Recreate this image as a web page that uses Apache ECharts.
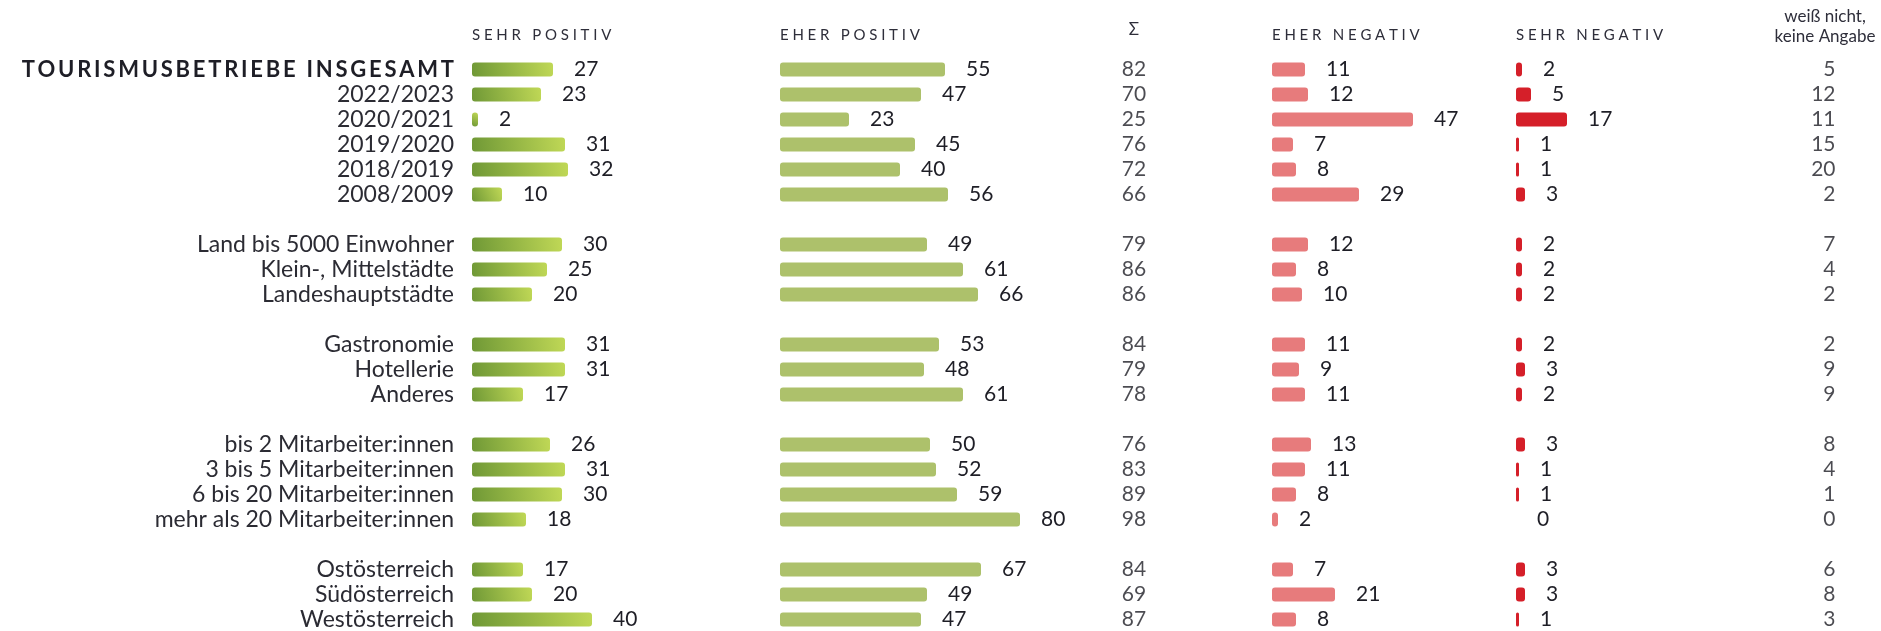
<!DOCTYPE html>
<html>
<head>
<meta charset="utf-8">
<script src="https://cdn.jsdelivr.net/npm/echarts@6/dist/echarts.min.js"></script>
<style>
html, body { margin: 0; padding: 0; background: #fff; }
#main { width: 1881px; height: 631px; }
</style>
</head>
<body>
<div id="main"></div>
<script>
// leere Einträge = Abstand zwischen den Gruppen
const categories = [
    'TOURISMUSBETRIEBE INSGESAMT', '2022/2023', '2020/2021', '2019/2020', '2018/2019', '2008/2009', '',
    'Land bis 5000 Einwohner', 'Klein-, Mittelstädte', 'Landeshauptstädte', '',
    'Gastronomie', 'Hotellerie', 'Anderes', '',
    'bis 2 Mitarbeiter:innen', '3 bis 5 Mitarbeiter:innen', '6 bis 20 Mitarbeiter:innen', 'mehr als 20 Mitarbeiter:innen', '',
    'Ostösterreich', 'Südösterreich', 'Westösterreich'
];
const sehrPositiv = [27, 23, 2, 31, 32, 10, null, 30, 25, 20, null, 31, 31, 17, null, 26, 31, 30, 18, null, 17, 20, 40];
const eherPositiv = [55, 47, 23, 45, 40, 56, null, 49, 61, 66, null, 53, 48, 61, null, 50, 52, 59, 80, null, 67, 49, 47];
const summe = [82, 70, 25, 76, 72, 66, null, 79, 86, 86, null, 84, 79, 78, null, 76, 83, 89, 98, null, 84, 69, 87];
const eherNegativ = [11, 12, 47, 7, 8, 29, null, 12, 8, 10, null, 11, 9, 11, null, 13, 11, 8, 2, null, 7, 21, 8];
const sehrNegativ = [2, 5, 17, 1, 1, 3, null, 2, 2, 2, null, 2, 3, 2, null, 3, 1, 1, 0, null, 3, 3, 1];
const weissNicht = [5, 12, 11, 15, 20, 2, null, 7, 4, 2, null, 2, 9, 9, null, 8, 4, 1, 0, null, 6, 8, 3];
const headers = ['SEHR POSITIV', 'EHER POSITIV', 'Σ', 'EHER NEGATIV', 'SEHR NEGATIV'];
const headerWn = ['weiß nicht,', 'keine Angabe'];

const FONT = 'Lato';
// kein letterSpacing in echarts -> schmale Leerzeichen zwischen die Buchstaben
const spaced = (s, sp) => s.split('').join(sp);

const gridTop = 57, gridHeight = 575;
const grids = [
    { left: 472, width: 300 },
    { left: 780, width: 300 },
    { left: 1272, width: 300 },
    { left: 1516, width: 300 },
    { left: 1084, width: 100 },
    { left: 1736, width: 100 }
].map(g => Object.assign({ top: gridTop, height: gridHeight, outerBoundsMode: 'none', containLabel: false }, g));

const xAxes = grids.map((g, i) => ({
    type: 'value', gridIndex: i, min: 0, max: i < 4 ? 100 : 1, show: false
}));
const yAxes = grids.map((g, i) => ({
    type: 'category', gridIndex: i, data: categories, inverse: true,
    show: i === 0,
    axisLine: { show: false }, axisTick: { show: false }, splitLine: { show: false },
    axisLabel: {
        interval: 0, margin: 18,
        fontFamily: FONT, fontSize: 23, color: '#2b2b33',
        formatter: (v, idx) => idx === 0 ? '{head|' + spaced(v, '\u2009') + '}' : v,
        rich: { head: { fontFamily: FONT, fontSize: 22, fontWeight: 'bold', color: '#1e1e26' } }
    }
}));

function barSeries(idx, data, color) {
    return {
        type: 'bar', xAxisIndex: idx, yAxisIndex: idx, data: data,
        barWidth: 14, silent: true,
        itemStyle: { color: color, borderRadius: 3 },
        label: {
            show: true, position: 'right', distance: 21,
            fontFamily: FONT, fontSize: 21, color: '#1e1e26',
            formatter: p => p.value == null ? '' : p.value
        }
    };
}
function textSeries(idx, data, x, pos) {
    const pts = [];
    data.forEach((v, i) => { if (v != null) pts.push([x, i, v]); });
    return {
        type: 'scatter', xAxisIndex: idx, yAxisIndex: idx, data: pts,
        symbolSize: 1, itemStyle: { color: 'rgba(0,0,0,0)' }, silent: true,
        label: {
            show: true, position: pos, distance: 0,
            fontFamily: FONT, fontSize: 21, color: '#1e1e26',
            formatter: p => p.value[2]
        }
    };
}

const greenGrad = new echarts.graphic.LinearGradient(0, 1, 1, 0, [
    { offset: 0, color: '#6f9836' },
    { offset: 1, color: '#c0d856' }
]);

const headerPos = [472, 780, 1134, 1272, 1516];
const graphics = headers.map((h, i) => ({
    type: 'text', x: headerPos[i], y: i === 2 ? 30 : 35,
    style: {
        text: i === 2 ? h : spaced(h, '\u2005'),
        fontFamily: FONT, fontSize: i === 2 ? 17 : 15, fill: '#2e2e3a',
        align: i === 2 ? 'center' : 'left', verticalAlign: 'middle'
    }
}));
headerWn.forEach((h, i) => graphics.push({
    type: 'text', x: 1825, y: 17 + i * 20,
    style: { text: h, fontFamily: FONT, fontSize: 17, fill: '#2e2e3a', align: 'center', verticalAlign: 'middle' }
}));

const chart = echarts.init(document.getElementById('main'));
chart.setOption({
    animation: false,
    grid: grids,
    xAxis: xAxes,
    yAxis: yAxes,
    graphic: graphics,
    series: [
        barSeries(0, sehrPositiv, greenGrad),
        barSeries(1, eherPositiv, '#adc16b'),
        barSeries(2, eherNegativ, '#e77b7c'),
        barSeries(3, sehrNegativ, '#d51f29'),
        textSeries(4, summe, 0.5, 'inside'),
        textSeries(5, weissNicht, 1, 'left')
    ]
});
</script>
</body>
</html>
